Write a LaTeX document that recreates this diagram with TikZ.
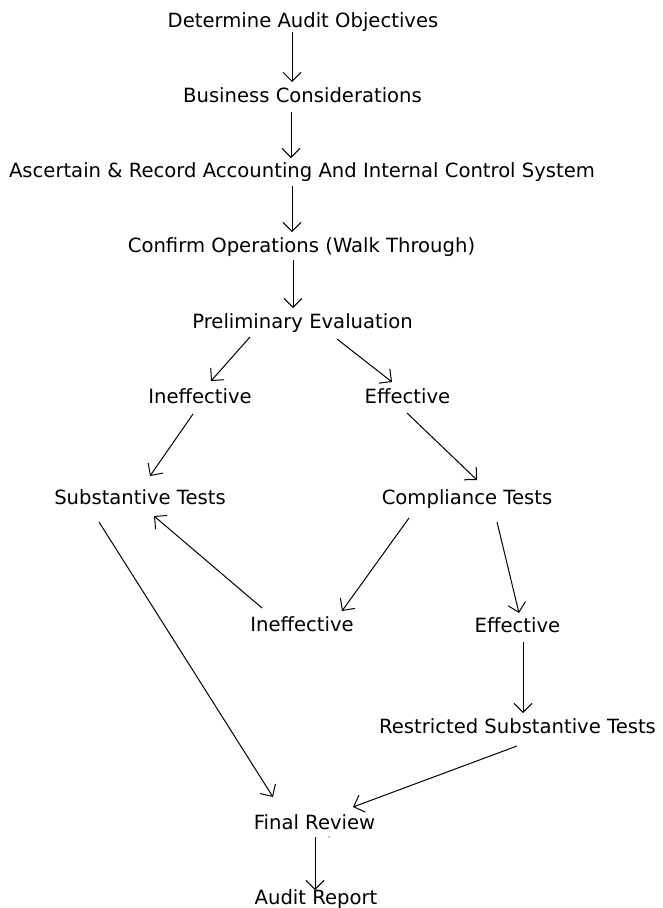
\documentclass[tikz,border=0pt]{standalone}
\usepackage{fontspec}
\setmainfont{DejaVu Sans}
\usetikzlibrary{arrows.meta}
\tikzset{
  lbl/.style={anchor=base, inner sep=0pt, font=\fontsize{19.6}{23}\selectfont},
  arr/.style={line width=1pt, -{Straight Barb[length=9pt,width=18pt]}},
}
\begin{document}
\begin{tikzpicture}[x=1pt,y=-1pt]
\useasboundingbox (0,0) rectangle (663,908);

% steps of the audit
\node[lbl] (det)  at (303,27)    {Determine Audit Objectives};
\node[lbl] (bus)  at (302.5,102) {Business Considerations};
\node[lbl] (asc)  at (302,177)   {Ascertain \& Record Accounting And Internal Control System};
\node[lbl] (conf) at (301.5,252) {Confirm Operations (Walk Through)};
\node[lbl] (pre)  at (302.5,328) {Preliminary Evaluation};
\node[lbl] (inA)  at (200,403)   {Ineffective};
\node[lbl] (efA)  at (407.5,403) {Effective};
\node[lbl] (sub)  at (140,504)   {Substantive Tests};
\node[lbl] (comp) at (467,504)   {Compliance Tests};
\node[lbl] (inB)  at (302,631)   {Ineffective};
\node[lbl] (efB)  at (517.5,632) {Effective};
\node[lbl] (res)  at (517.5,733) {Restricted Substantive Tests};
\node[lbl] (fin)  at (314.5,829) {Final Review};
\node[lbl] (aud)  at (316,904)   {Audit Report};

% flow
\draw[arr] ([shift={(-11,5)}]det.base)     -- ([shift={(-10.5,-20)}]bus.base);
\draw[arr] ([shift={(-11.5,10)}]bus.base)  -- ([shift={(-11,-19)}]asc.base);
\draw[arr] ([shift={(-10,9)}]asc.base)     -- ([shift={(-9.5,-20)}]conf.base);
\draw[arr] ([shift={(-8.5,8)}]conf.base)   -- ([shift={(-9.5,-20)}]pre.base);
\draw[arr] ([shift={(-52.5,9)}]pre.base)   -- ([shift={(11,-22)}]inA.base);
\draw[arr] ([shift={(34.5,11)}]pre.base)   -- ([shift={(-15.5,-21)}]efA.base);
\draw[arr] ([shift={(-7,11)}]inA.base)     -- ([shift={(10,-28)}]sub.base);
\draw[arr] ([shift={(-0.5,10)}]efA.base)   -- ([shift={(10,-24)}]comp.base);
\draw[arr] ([shift={(-58,14)}]comp.base)   -- ([shift={(40,-20)}]inB.base);
\draw[arr] ([shift={(30,18)}]comp.base)    -- ([shift={(1.5,-19)}]efB.base);
\draw[arr] ([shift={(-40,-23)}]inB.base)   -- ([shift={(14,12)}]sub.base);
\draw[arr] ([shift={(-41,18)}]sub.base)    -- ([shift={(-41.5,-32)}]fin.base);
\draw[arr] ([shift={(5.5,10)}]efB.base)    -- ([shift={(5.5,-20)}]res.base);
\draw[arr] ([shift={(-0.5,13)}]res.base)   -- ([shift={(38.5,-22)}]fin.base);
\draw[arr] ([shift={(0.5,8)}]fin.base)     -- ([shift={(-1,-14)}]aud.base);

\fill (329,837) circle (0.6);
\end{tikzpicture}
\end{document}
